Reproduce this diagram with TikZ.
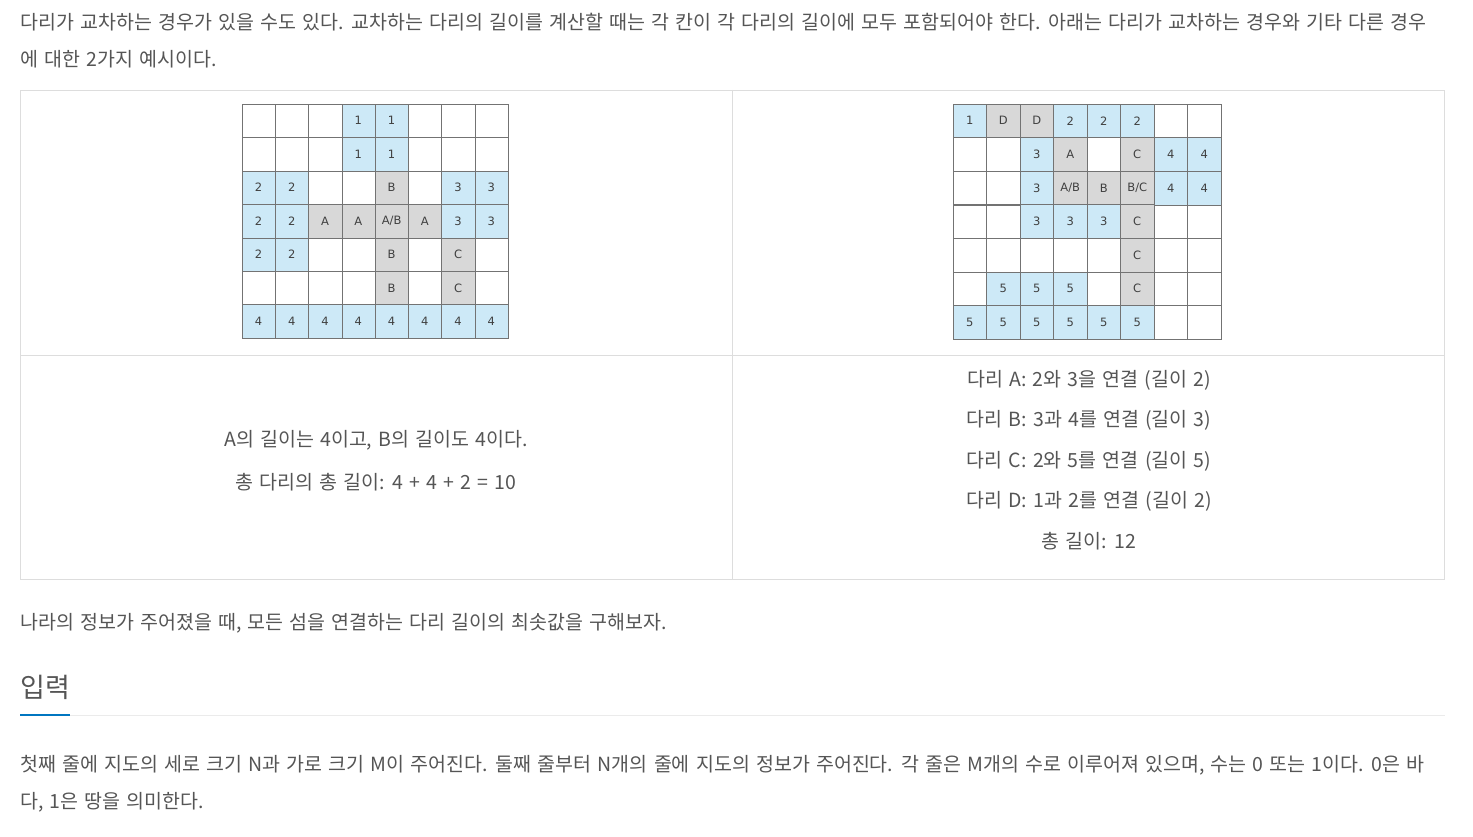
\documentclass[tikz,border=0pt]{standalone}
\usepackage{fontspec}
\setmainfont{Noto Sans CJK KR}[WordSpace=1.42]
\newfontfamily\cellfont{DejaVu Sans}
\usetikzlibrary{positioning}
\definecolor{txt}{HTML}{555555}
\definecolor{isle}{HTML}{CDE9F7}
\definecolor{brdg}{HTML}{D8D8D8}
\definecolor{frame}{HTML}{DDDDDD}
\definecolor{hilite}{HTML}{0076C0}

\begin{document}
\begin{tikzpicture}[x=1pt,y=-1pt,
  every node/.style={text=txt,inner sep=0pt},
  para/.style={anchor=west,font=\fontsize{19.5}{22}\selectfont},
  caption/.style={font=\fontsize{19.5}{22}\selectfont},
  cell/.style={draw=black!55,minimum width=33.3pt,minimum height=33.4pt,font=\cellfont\fontsize{11.5}{12}\selectfont,text=black!75},
  rcell/.style={cell,minimum width=33.5pt,minimum height=33.6pt}]
\useasboundingbox[fill=white] (0,0) rectangle (1473,837);
\node[para] (p1) at (20,22) {다리가 교차하는 경우가 있을 수도 있다. 교차하는 다리의 길이를 계산할 때는 각 칸이 각 다리의 길이에 모두 포함되어야 한다. 아래는 다리가 교차하는 경우와 기타 다른 경우};
\node[para] (p2) at (20,59) {에 대한 2가지 예시이다.};
\draw[frame] (20,90) rectangle (1444,579);
\draw[frame] (732,90) -- (732,579);
\draw[frame] (20,355) -- (1444,355);
\foreach \c in {1,...,8} \foreach \r in {1,...,7} {
  \node[cell] (l\c\r) at ({242+(\c-0.5)*33.25},{104+(\r-0.5)*33.43}) {};
  \node[rcell] (r\c\r) at ({953+(\c-0.5)*33.5},{104+(\r-0.5)*33.57}) {};
}
\foreach \c/\r/\t/\k in {4/1/1/isle,5/1/1/isle,4/2/1/isle,5/2/1/isle,
  1/3/2/isle,2/3/2/isle,5/3/B/brdg,7/3/3/isle,8/3/3/isle,
  1/4/2/isle,2/4/2/isle,3/4/A/brdg,4/4/A/brdg,5/4/{A/B}/brdg,6/4/A/brdg,7/4/3/isle,8/4/3/isle,
  1/5/2/isle,2/5/2/isle,5/5/B/brdg,7/5/C/brdg,5/6/B/brdg,7/6/C/brdg,
  1/7/4/isle,2/7/4/isle,3/7/4/isle,4/7/4/isle,5/7/4/isle,6/7/4/isle,7/7/4/isle,8/7/4/isle}
  \node[cell,fill=\k] (l\c\r) at ({242+(\c-0.5)*33.25},{104+(\r-0.5)*33.43}) {\t};
\foreach \c/\r/\t/\k in {1/1/1/isle,2/1/D/brdg,3/1/D/brdg,4/1/2/isle,5/1/2/isle,6/1/2/isle,
  3/2/3/isle,4/2/A/brdg,6/2/C/brdg,7/2/4/isle,8/2/4/isle,
  3/3/3/isle,4/3/{A/B}/brdg,5/3/B/brdg,6/3/{B/C}/brdg,7/3/4/isle,8/3/4/isle,
  3/4/3/isle,4/4/3/isle,5/4/3/isle,6/4/C/brdg,6/5/C/brdg,
  2/6/5/isle,3/6/5/isle,4/6/5/isle,6/6/C/brdg,
  1/7/5/isle,2/7/5/isle,3/7/5/isle,4/7/5/isle,5/7/5/isle,6/7/5/isle}
  \node[rcell,fill=\k] (r\c\r) at ({953+(\c-0.5)*33.5},{104+(\r-0.5)*33.57}) {\t};
\node[caption] (la) at (376,440) {A의 길이는 4이고, B의 길이도 4이다.};
\node[caption] (lb) at (376,482) {총 다리의 총 길이: 4 + 4 + 2 = 10};
\node[caption] (ra) at (1089,380) {다리 A: 2와 3을 연결 (길이 2)};
\node[caption] (rb) at (1089,420) {다리 B: 3과 4를 연결 (길이 3)};
\node[caption] (rc) at (1089,461) {다리 C: 2와 5를 연결 (길이 5)};
\node[caption] (rd) at (1089,501) {다리 D: 1과 2를 연결 (길이 2)};
\node[caption] (re) at (1089,541) {총 길이: 12};
\node[para] (p3) at (20,623) {나라의 정보가 주어졌을 때, 모든 섬을 연결하는 다리 길이의 최솟값을 구해보자.};
\node[anchor=west,font=\fontsize{27}{30}\selectfont] (h) at (20,687) {입력};
\draw[black!8] (70,715) -- (1445,715);
\draw[hilite,line width=2.5pt] (20,715) -- (70,715);
\node[para] (p4) at (20,765) {첫째 줄에 지도의 세로 크기 N과 가로 크기 M이 주어진다. 둘째 줄부터 N개의 줄에 지도의 정보가 주어진다. 각 줄은 M개의 수로 이루어져 있으며, 수는 0 또는 1이다. 0은 바};
\node[para] (p5) at (20,802) {다, 1은 땅을 의미한다.};
\end{tikzpicture}
\end{document}
